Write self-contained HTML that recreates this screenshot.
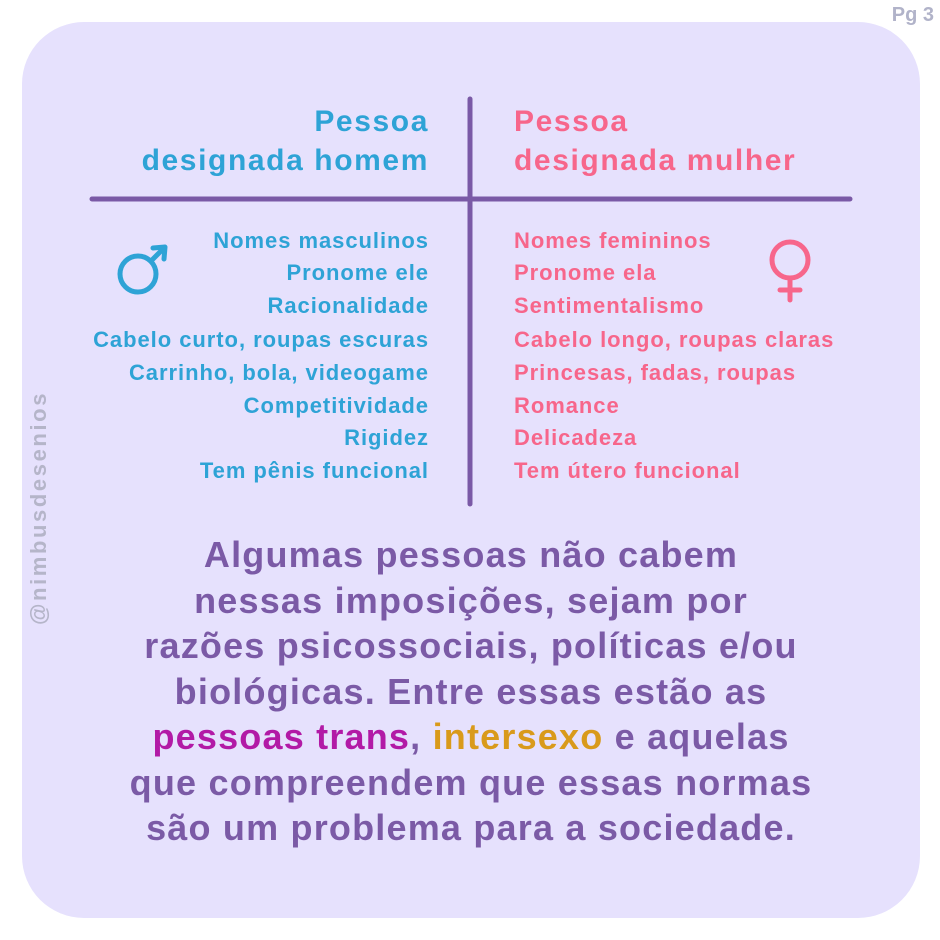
<!DOCTYPE html>
<html><head><meta charset="utf-8"><style>
body{margin:0;width:940px;height:940px;background:#fff;position:relative;overflow:hidden;font-family:"Liberation Sans",sans-serif;font-weight:bold}
.panel{position:absolute;left:22px;top:22px;width:898px;height:896px;background:#e6e1fd;border-radius:62px}
.t{position:absolute;white-space:nowrap;line-height:1}
.b{color:#2ea3d6}.p{color:#f7668b}
.r{text-align:right;right:512px}
.l{left:514px}
.li{font-size:22px;letter-spacing:0.95px}
.r.li,.r.h{right:511px}
.h{font-size:30px;letter-spacing:1.6px}
.body{position:absolute;left:22px;width:898px;text-align:center;font-size:36px;color:#7b5aa6;line-height:45.5px;top:532px;letter-spacing:1.2px}
</style></head><body>
<div class="panel"></div>
<div class="t" style="right:6px;top:5px;font-size:20px;color:#b1b3c9">Pg 3</div>
<div class="t" style="left:28px;top:505px;transform:rotate(-90deg);transform-origin:0 0;font-size:22px;color:#b5b5c9;width:0">
<span style="position:absolute;left:-120px;top:0;letter-spacing:2.6px">@nimbusdesenios</span></div>
<svg style="position:absolute;left:0;top:0" width="940" height="940">
<line x1="470" y1="99" x2="470" y2="504" stroke="#7a59a6" stroke-width="5" stroke-linecap="round"/>
<line x1="92" y1="199" x2="850" y2="199" stroke="#7a59a6" stroke-width="5" stroke-linecap="round"/>
<circle cx="138" cy="274" r="18" fill="none" stroke="#2ea3d6" stroke-width="5"/>
<line x1="151" y1="261" x2="164" y2="248" stroke="#2ea3d6" stroke-width="5" stroke-linecap="round"/>
<polyline points="153,248 165,247 164,259" fill="none" stroke="#2ea3d6" stroke-width="5" stroke-linecap="round" stroke-linejoin="round"/>
<circle cx="790" cy="260" r="18" fill="none" stroke="#f7668b" stroke-width="5"/>
<line x1="790" y1="278" x2="790" y2="300" stroke="#f7668b" stroke-width="5" stroke-linecap="round"/>
<line x1="780" y1="290" x2="800" y2="290" stroke="#f7668b" stroke-width="5" stroke-linecap="round"/>
</svg>
<div class="t h b r" style="top:107px">Pessoa</div>
<div class="t h b r" style="top:146px">designada homem</div>
<div class="t h p l" style="top:107px">Pessoa</div>
<div class="t h p l" style="top:146px">designada mulher</div>
<div class="t li b r" style="top:230px">Nomes masculinos</div>
<div class="t li b r" style="top:262px">Pronome ele</div>
<div class="t li b r" style="top:295px">Racionalidade</div>
<div class="t li b r" style="top:329px">Cabelo curto, roupas escuras</div>
<div class="t li b r" style="top:362px">Carrinho, bola, videogame</div>
<div class="t li b r" style="top:395px">Competitividade</div>
<div class="t li b r" style="top:427px">Rigidez</div>
<div class="t li b r" style="top:460px">Tem pênis funcional</div>
<div class="t li p l" style="top:230px">Nomes femininos</div>
<div class="t li p l" style="top:262px">Pronome ela</div>
<div class="t li p l" style="top:295px">Sentimentalismo</div>
<div class="t li p l" style="top:329px">Cabelo longo, roupas claras</div>
<div class="t li p l" style="top:362px">Princesas, fadas, roupas</div>
<div class="t li p l" style="top:395px">Romance</div>
<div class="t li p l" style="top:427px">Delicadeza</div>
<div class="t li p l" style="top:460px">Tem útero funcional</div>
<div class="body">Algumas pessoas não cabem<br>nessas imposições, sejam por<br>razões psicossociais, políticas e/ou<br>biológicas. Entre essas estão as<br><span style="color:#b21aa6">pessoas trans</span>, <span style="color:#d99a1b">intersexo</span> e aquelas<br>que compreendem que essas normas<br>são um problema para a sociedade.</div>
</body></html>
